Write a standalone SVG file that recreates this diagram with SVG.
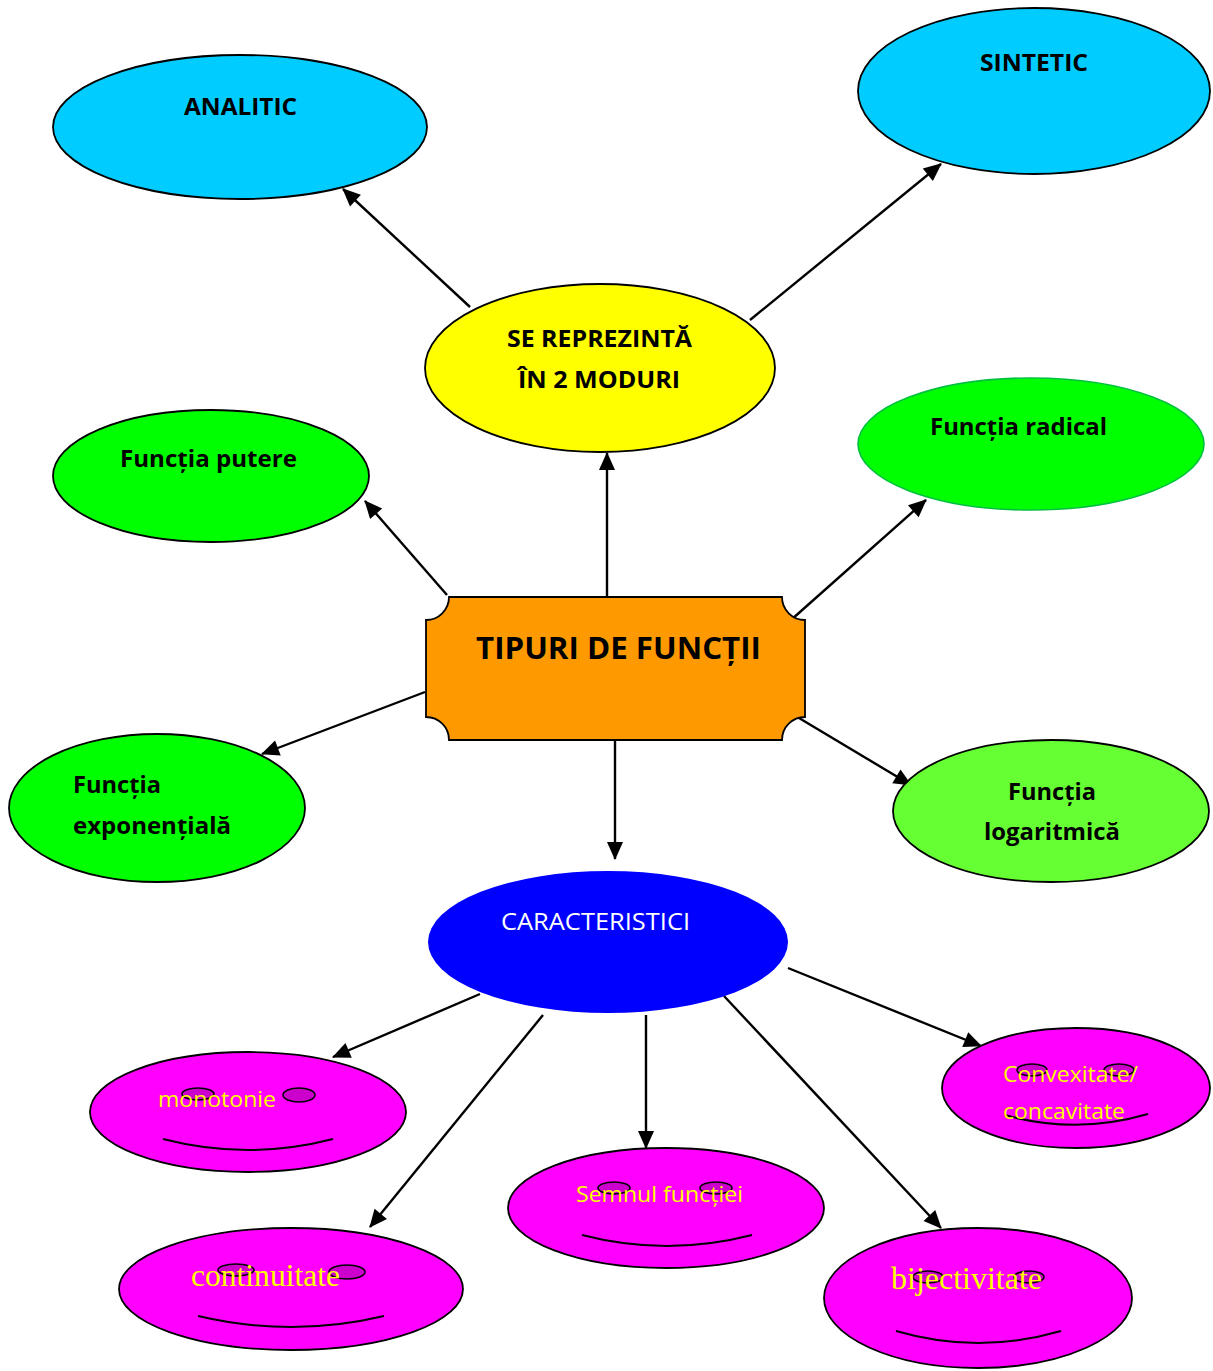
<svg xmlns="http://www.w3.org/2000/svg" width="1213" height="1371" viewBox="0 0 1213 1371">
<style>
.n{stroke:#000;stroke-width:1.8}
.b{font-family:"Open Sans",Lato,"Liberation Sans",sans-serif;font-weight:bold;fill:#000}
.y{font-family:"Open Sans",Lato,"Liberation Sans",sans-serif;fill:#FFFF00}
.ys{font-family:"Liberation Serif","DejaVu Serif",serif;fill:#FFFF00}
.eye{fill:#CC00CC;stroke:#000;stroke-width:1.5}
.mouth{fill:none;stroke:#000;stroke-width:2}
.c line{stroke:#000;stroke-width:2.4;marker-end:url(#ah)}
</style>
<defs>
<marker id="ah" markerUnits="userSpaceOnUse" markerWidth="20" markerHeight="18" refX="17" refY="8" orient="auto" overflow="visible">
<path d="M0,0 L18,8 L0,16 z" fill="#000"/>
</marker>
</defs>
<rect width="1213" height="1371" fill="#fff"/>
<g class="c" id="connectors">
<line x1="470" y1="307" x2="343" y2="189"/>
<line x1="750" y1="320" x2="941" y2="164"/>
<line x1="607" y1="596" x2="607" y2="453"/>
<line x1="447" y1="595" x2="365" y2="501"/>
<line x1="791" y1="620" x2="926" y2="500"/>
<line x1="425" y1="692" x2="262" y2="754"/>
<line x1="799" y1="718" x2="911" y2="785"/>
<line x1="615" y1="740" x2="615" y2="859"/>
<line x1="480" y1="994" x2="333" y2="1057"/>
<line x1="543" y1="1015" x2="370" y2="1227"/>
<line x1="646" y1="1015" x2="646" y2="1148"/>
<line x1="724" y1="996" x2="941" y2="1228"/>
<line x1="788" y1="968" x2="981" y2="1046"/>
</g>
<g id="analitic">
<ellipse class="n" cx="240" cy="127" rx="187" ry="72" fill="#00CCFF"/>
<text class="b" x="184" y="115" font-size="24" textLength="113" lengthAdjust="spacingAndGlyphs">ANALITIC</text>
</g>
<g id="sintetic">
<ellipse class="n" cx="1034" cy="91" rx="176" ry="83" fill="#00CCFF"/>
<text class="b" x="980" y="71" font-size="24" textLength="108" lengthAdjust="spacingAndGlyphs">SINTETIC</text>
</g>
<g id="reprezinta">
<ellipse class="n" cx="600" cy="368" rx="175" ry="84" fill="#FFFF00"/>
<text class="b" x="507" y="347" font-size="24" textLength="185" lengthAdjust="spacingAndGlyphs">SE REPREZINTĂ</text>
<text class="b" x="518" y="388" font-size="24" textLength="162" lengthAdjust="spacingAndGlyphs">ÎN 2 MODURI</text>
</g>
<g id="putere">
<ellipse class="n" cx="211" cy="476" rx="158" ry="66" fill="#00FF00"/>
<text class="b" x="120" y="467" font-size="24" textLength="177" lengthAdjust="spacingAndGlyphs">Funcția putere</text>
</g>
<g id="radical">
<ellipse cx="1031" cy="444" rx="173" ry="66" fill="#00FF00" stroke="#00C040" stroke-width="1.6"/>
<text class="b" x="930" y="435" font-size="24" textLength="177" lengthAdjust="spacingAndGlyphs">Funcția radical</text>
</g>
<g id="tipuri">
<path class="n" fill="#FF9900" d="M449,597 L782,597 A23,23 0 0 0 805,620 L805,717 A23,23 0 0 0 782,740 L449,740 A23,23 0 0 0 426,717 L426,620 A23,23 0 0 0 449,597 Z"/>
<text class="b" x="476" y="659" font-size="30" textLength="285" lengthAdjust="spacingAndGlyphs">TIPURI DE FUNCȚII</text>
</g>
<g id="exponentiala">
<ellipse class="n" cx="157" cy="808" rx="148" ry="74" fill="#00FF00"/>
<text class="b" x="73" y="793" font-size="24" textLength="88" lengthAdjust="spacingAndGlyphs">Funcția</text>
<text class="b" x="73" y="834" font-size="24" textLength="158" lengthAdjust="spacingAndGlyphs">exponențială</text>
</g>
<g id="logaritmica">
<ellipse class="n" cx="1051" cy="811" rx="158" ry="71" fill="#66FF33"/>
<text class="b" x="1008" y="800" font-size="24" textLength="88" lengthAdjust="spacingAndGlyphs">Funcția</text>
<text class="b" x="984" y="840" font-size="24" textLength="136" lengthAdjust="spacingAndGlyphs">logaritmică</text>
</g>
<g id="caracteristici">
<ellipse cx="608" cy="942" rx="180" ry="71" fill="#0000FF"/>
<text x="501" y="930" font-size="24" fill="#FFFFFF" font-family="'Open Sans',Lato,'Liberation Sans',sans-serif" textLength="189" lengthAdjust="spacingAndGlyphs">CARACTERISTICI</text>
</g>
<g id="monotonie">
<ellipse class="n" cx="248" cy="1112" rx="158" ry="60" fill="#FF00FF"/>
<ellipse class="eye" cx="198" cy="1094" rx="16" ry="6"/>
<ellipse class="eye" cx="299" cy="1095" rx="16" ry="7"/>
<path class="mouth" d="M163,1139 Q248,1161 333,1139"/>
<text class="y" x="158" y="1107" font-size="22" textLength="118" lengthAdjust="spacingAndGlyphs">monotonie</text>
</g>
<g id="convexitate">
<ellipse class="n" cx="1076" cy="1088" rx="134" ry="60" fill="#FF00FF"/>
<ellipse class="eye" cx="1032" cy="1070" rx="15" ry="6"/>
<ellipse class="eye" cx="1119" cy="1070" rx="15" ry="6"/>
<path class="mouth" d="M1005,1115 Q1076,1135 1148,1114"/>
<text class="y" x="1003" y="1082" font-size="22" textLength="135" lengthAdjust="spacingAndGlyphs">Convexitate/</text>
<text class="y" x="1003" y="1119" font-size="22" textLength="122" lengthAdjust="spacingAndGlyphs">concavitate</text>
</g>
<g id="semnul">
<ellipse class="n" cx="666" cy="1208" rx="158" ry="60" fill="#FF00FF"/>
<ellipse class="eye" cx="614" cy="1188" rx="16" ry="6"/>
<ellipse class="eye" cx="716" cy="1188" rx="16" ry="6"/>
<path class="mouth" d="M582,1235 Q667,1257 752,1235"/>
<text class="y" x="576" y="1202" font-size="22" textLength="167" lengthAdjust="spacingAndGlyphs">Semnul funcției</text>
</g>
<g id="continuitate">
<ellipse class="n" cx="291" cy="1289" rx="172" ry="61" fill="#FF00FF"/>
<ellipse class="eye" cx="236" cy="1270" rx="18" ry="6"/>
<ellipse class="eye" cx="347" cy="1272" rx="18" ry="7"/>
<path class="mouth" d="M198,1316 Q292,1338 384,1316"/>
<text class="ys" x="191" y="1286" font-size="31" textLength="149" lengthAdjust="spacingAndGlyphs">continuitate</text>
</g>
<g id="bijectivitate">
<ellipse class="n" cx="978" cy="1298" rx="154" ry="70" fill="#FF00FF"/>
<ellipse class="eye" cx="928" cy="1277" rx="15" ry="6"/>
<ellipse class="eye" cx="1029" cy="1277" rx="15" ry="6"/>
<path class="mouth" d="M896,1331 Q978,1355 1061,1331"/>
<text class="ys" x="891" y="1289" font-size="31" textLength="151" lengthAdjust="spacingAndGlyphs">bijectivitate</text>
</g>
</svg>
